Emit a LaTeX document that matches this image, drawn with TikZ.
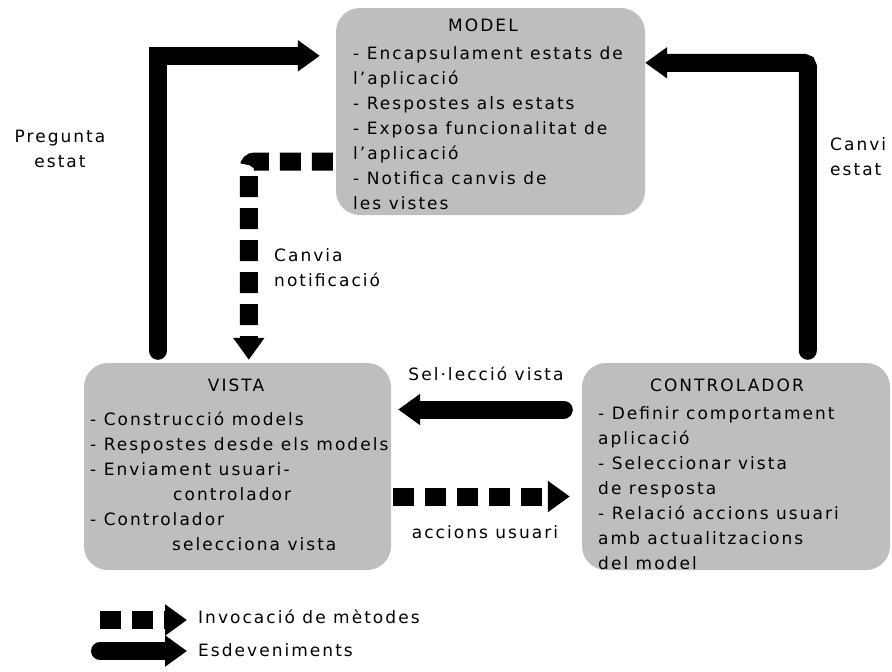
\documentclass[tikz,border=0pt]{standalone}
\usepackage{fontspec}
\setmainfont{DejaVu Sans}[LetterSpace=12]
\usetikzlibrary{arrows.meta}
\definecolor{boxgray}{RGB}{190,190,190}

\begin{document}
\begin{tikzpicture}
[x=1pt,y=-1pt,
 every node/.style={inner sep=0pt,font=\fontsize{17pt}{25pt}\selectfont},
 box/.style={fill=boxgray,rounded corners=24pt},
 body/.style={anchor=north west,align=left},
 event/.style={line width=18pt,line cap=round,-{Triangle[width=30pt,length=22pt]}},
 call/.style={line width=18pt,dash pattern=on 21pt off 11pt,rounded corners=6pt,-{Triangle[width=30pt,length=22pt]}}]
\useasboundingbox (0,0) rectangle (892,672);
% boxes
\node[box,minimum width=309pt,minimum height=207pt] (model) at (490.5,111.5) {};
\node[box,minimum width=307pt,minimum height=207pt] (vista) at (237.5,466.5) {};
\node[box,minimum width=308pt,minimum height=207pt] (ctrl) at (736,466.5) {};
\node (model title) at (483,25) {MODEL};
\node (vista title) at (236,385) {VISTA};
\node (ctrl title) at (727,385) {CONTROLADOR};
\node[body] (model text) at (353,46) {- Encapsulament estats de\\l'aplicació\\- Respostes als estats\\- Exposa funcionalitat de\\l'aplicació\\- Notifica canvis de\\les vistes};
\node[body] (vista text) at (90,412) {- Construcció models\\- Respostes desde els models\\- Enviament usuari-\\\hspace*{83pt}controlador\\- Controlador\\\hspace*{82pt}selecciona vista};
\node[body] (ctrl text) at (598,406) {- Definir comportament\\aplicació\\- Seleccionar vista\\de resposta\\- Relació accions usuari\\amb actualitzacions\\del model};
% labels
\node[align=center] (ask) at (60,149) {Pregunta\\estat};
\node[anchor=west,align=left] (change) at (830,157) {Canvi\\estat};
\node[anchor=west,align=left] (notify) at (274,268) {Canvia\\notificació};
\node (select) at (486,374) {Sel·lecció vista};
\node (actions) at (485,532) {accions usuari};
\node[anchor=west] (inv) at (198,617) {Invocació de mètodes};
\node[anchor=west] (evt) at (198,650) {Esdeveniments};
\coordinate (inv a) at (100,620);
\coordinate (evt a) at (100,651);
% connectors
\draw[event] ([xshift=74pt,yshift=12pt]vista.north west) |- ([xshift=-16pt,yshift=-48pt]model.north west);
\draw[event,rounded corners=4pt] ([xshift=226pt,yshift=12pt]ctrl.north west) |- ([yshift=-55pt]model.north east);
\draw[call] ([xshift=-3pt,yshift=-50pt]model.west) -| ([xshift=165pt,yshift=3pt]vista.north west);
\draw[event] ([xshift=-18pt,yshift=57pt]ctrl.west) -- ([xshift=7pt,yshift=57pt]vista.east);
\draw[call] ([xshift=2pt,yshift=-30pt]vista.east) -- ([xshift=-12pt,yshift=-30pt]ctrl.west);
\draw[call] (inv a) -- ([xshift=-11pt]inv.west |- inv a);
\draw[event] (evt a) -- ([xshift=-11pt]evt.west |- evt a);
\end{tikzpicture}
\end{document}
